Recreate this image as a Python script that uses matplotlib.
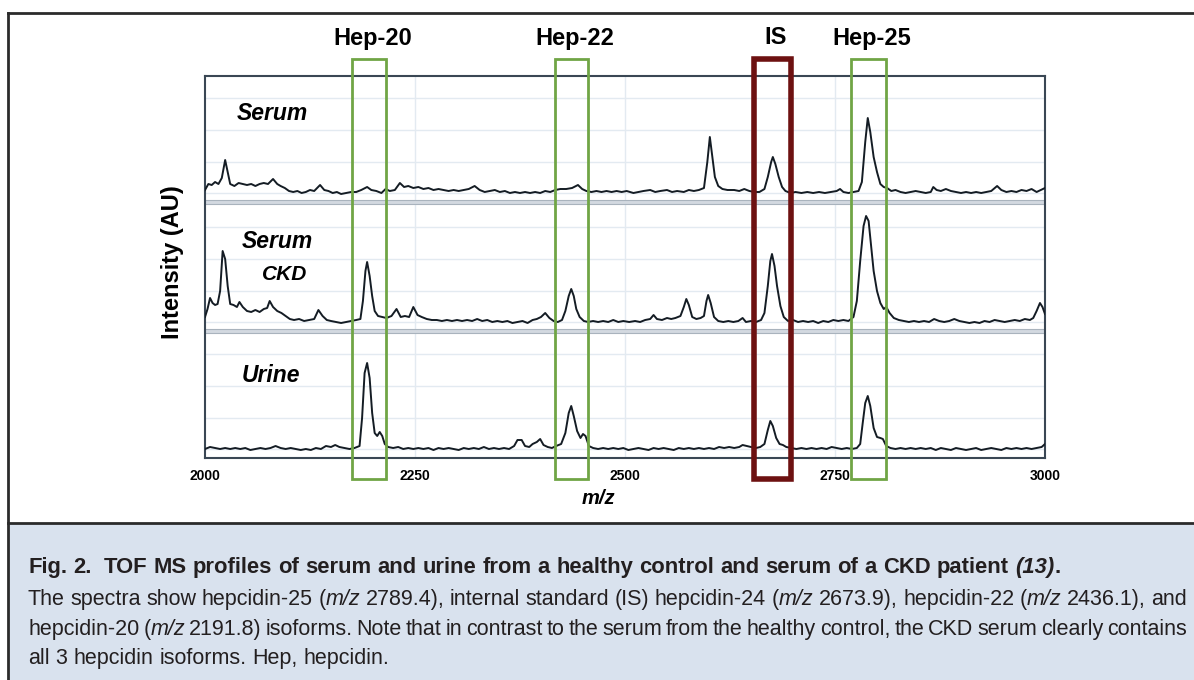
import matplotlib
matplotlib.use("Agg")
import matplotlib.pyplot as plt
from matplotlib.patches import Rectangle

plt.rcParams["font.family"] = ["Liberation Sans", "DejaVu Sans"]

# spectra: (m/z, intensity AU above panel floor)
serum = [(2000,12),(2004,18),(2008,17),(2012,20),(2016,18),(2020,24),(2024,42),(2027,30),(2030,18),
         (2035,16),(2040,19),(2045,18),(2050,17),(2055,18),(2060,16),(2065,18),(2070,19),(2075,18),
         (2081,23),(2086,18),(2090,16),(2095,14),(2100,11),(2105,10),(2110,11),(2115,9),(2120,10),
         (2125,12),(2130,11),(2137,17),(2142,12),(2147,11),(2152,9),(2157,10),(2162,8),(2168,9),
         (2174,10),(2180,10),(2186,12),(2193,15),(2198,12),(2204,11),(2210,9),(2215,13),(2220,11),
         (2226,12),(2232,19),(2237,15),(2242,16),(2248,14),(2254,15),(2260,13),(2266,14),(2272,12),
         (2278,13),(2284,12),(2290,11),(2296,12),(2302,11),(2308,12),(2314,13),(2321,16),(2327,12),
         (2333,10),(2339,11),(2345,12),(2351,10),(2357,11),(2363,9),(2369,10),(2375,9),(2381,10),
         (2387,9),(2393,10),(2399,9),(2405,11),(2411,10),(2417,12),(2423,13),(2430,13),(2437,14),
         (2444,17),(2449,13),(2454,11),(2460,10),(2466,11),(2472,10),(2478,11),(2484,10),(2490,11),
         (2496,10),(2502,11),(2510,9),(2516,10),(2522,11),(2530,12),(2536,10),(2542,11),(2550,12),
         (2556,10),(2562,11),(2570,10),(2576,12),(2582,11),(2588,12),(2594,14),(2598,40),(2601,65),
         (2604,45),(2607,25),(2611,16),(2616,13),(2622,12),(2630,12),(2636,11),(2642,13),(2648,11),
         (2654,10),(2660,10),(2666,13),(2670,25),(2674,40),(2676,45),(2679,38),(2683,25),(2687,15),
         (2691,11),(2697,9),(2703,10),(2710,9),(2717,10),(2724,9),(2731,10),(2738,9),(2745,10),
         (2752,11),(2756,13),(2760,10),(2766,9),(2772,10),(2778,11),(2782,20),(2786,60),(2789,84),
         (2792,70),(2796,45),(2800,30),(2804,18),(2808,15),(2812,14),(2817,11),(2822,12),(2828,10),
         (2834,9),(2840,10),(2846,11),(2852,10),(2858,9),(2864,10),(2867,15),(2871,12),(2876,11),
         (2882,13),(2888,11),(2894,10),(2900,9),(2906,10),(2912,9),(2918,10),(2924,9),(2930,10),
         (2936,11),(2943,16),(2948,12),(2954,10),(2960,11),(2966,10),(2972,12),(2978,11),(2984,13),
         (2990,10),(2995,12),(3000,14)]

serum_ckd = [(2000,14),(2003,22),(2006,33),(2009,28),(2012,26),(2015,27),(2018,40),(2021,80),(2024,72),
             (2027,45),(2030,27),(2034,26),(2038,24),(2041,29),(2045,24),(2050,20),(2055,19),(2060,21),
             (2065,19),(2070,22),(2074,23),(2077,30),(2081,24),(2086,20),(2091,18),(2096,15),(2101,12),
             (2106,11),(2112,12),(2118,10),(2124,11),(2130,12),(2135,21),(2140,15),(2145,11),(2150,10),
             (2156,9),(2162,8),(2168,9),(2174,10),(2180,11),(2185,12),(2188,30),(2191,60),(2193,69),
             (2196,55),(2199,35),(2202,20),(2206,15),(2211,14),(2216,13),(2222,15),(2228,22),(2233,14),
             (2238,15),(2243,14),(2248,24),(2253,16),(2258,14),(2264,12),(2270,11),(2276,11),(2282,10),
             (2288,11),(2294,10),(2300,11),(2306,10),(2312,11),(2318,10),(2324,12),(2330,10),(2336,11),
             (2342,9),(2348,10),(2354,9),(2360,10),(2366,8),(2372,9),(2378,10),(2384,8),(2390,11),
             (2395,12),(2400,14),(2405,18),(2410,13),(2415,10),(2420,9),(2425,11),(2429,20),(2433,35),
             (2436,42),(2439,35),(2442,22),(2446,14),(2451,10),(2456,9),(2462,10),(2468,9),(2474,10),
             (2480,9),(2486,11),(2492,9),(2498,10),(2505,9),(2512,10),(2518,9),(2524,11),(2530,12),
             (2534,16),(2538,12),(2544,11),(2550,13),(2555,12),(2560,13),(2566,15),(2570,24),(2573,32),
             (2576,26),(2580,14),(2585,12),(2590,13),(2594,15),(2597,30),(2599,36),(2602,28),(2606,14),
             (2611,10),(2617,9),(2623,10),(2629,9),(2635,10),(2640,13),(2644,9),(2650,10),(2656,9),
             (2662,11),(2666,18),(2670,45),(2673,70),(2675,77),(2678,65),(2681,45),(2685,25),(2689,14),
             (2694,10),(2700,11),(2706,9),(2712,10),(2718,9),(2724,10),(2730,8),(2736,10),(2742,9),
             (2748,11),(2754,10),(2760,11),(2766,10),(2772,14),(2776,30),(2780,70),(2784,105),(2787,115),
             (2790,110),(2793,85),(2796,60),(2800,40),(2804,28),(2808,22),(2811,24),(2815,18),(2820,13),
             (2826,11),(2832,10),(2838,9),(2844,10),(2850,9),(2856,10),(2862,9),(2868,12),(2874,10),
             (2880,9),(2886,10),(2892,12),(2898,10),(2904,9),(2910,8),(2916,9),(2922,8),(2928,10),
             (2934,9),(2940,11),(2946,10),(2952,9),(2958,10),(2964,11),(2970,10),(2976,12),(2982,11),
             (2986,13),(2990,20),(2994,28),(2997,24),(3000,17)]

urine = [(2000,9),(2006,11),(2012,10),(2018,9),(2024,10),(2030,9),(2036,10),(2042,9),(2048,10),
         (2054,8),(2060,9),(2066,10),(2072,9),(2078,10),(2084,12),(2090,10),(2096,9),(2102,10),
         (2108,9),(2114,8),(2120,9),(2126,8),(2132,10),(2138,9),(2144,12),(2150,11),(2155,13),
         (2160,11),(2166,10),(2172,9),(2178,10),(2184,12),(2187,40),(2190,85),(2193,95),(2196,80),
         (2199,45),(2202,25),(2205,22),(2208,26),(2211,22),(2214,14),(2218,11),(2224,10),(2230,11),
         (2236,9),(2242,10),(2248,9),(2254,10),(2260,9),(2266,10),(2272,8),(2278,10),(2284,9),
         (2290,10),(2296,9),(2302,8),(2308,10),(2314,9),(2320,10),(2326,9),(2332,11),(2338,9),
         (2344,10),(2350,9),(2356,10),(2362,9),(2368,12),(2372,18),(2377,18),(2381,12),(2386,11),
         (2390,14),(2395,16),(2399,19),(2403,13),(2408,11),(2413,10),(2418,12),(2424,14),(2429,25),
         (2433,45),(2436,52),(2439,42),(2443,27),(2447,20),(2450,24),(2453,22),(2457,12),(2462,10),
         (2468,9),(2474,10),(2480,9),(2486,10),(2492,9),(2498,10),(2504,8),(2510,9),(2516,10),
         (2522,9),(2528,8),(2534,10),(2540,9),(2546,10),(2552,9),(2558,8),(2564,10),(2570,9),
         (2576,10),(2582,9),(2588,10),(2594,9),(2600,10),(2606,9),(2612,11),(2618,10),(2624,11),
         (2630,10),(2636,11),(2640,13),(2645,12),(2650,11),(2656,10),(2661,11),(2666,14),(2670,28),
         (2673,37),(2676,32),(2680,20),(2684,14),(2688,13),(2692,11),(2698,10),(2704,9),(2710,10),
         (2716,9),(2722,10),(2728,9),(2734,10),(2740,9),(2746,11),(2752,10),(2758,9),(2764,10),
         (2770,9),(2776,10),(2780,14),(2783,35),(2786,55),(2789,62),(2792,52),(2796,30),(2800,21),
         (2804,20),(2807,19),(2811,12),(2816,10),(2822,9),(2828,10),(2834,9),(2840,10),(2846,9),
         (2852,10),(2858,9),(2864,10),(2870,8),(2876,10),(2882,9),(2888,8),(2894,10),(2900,9),
         (2906,8),(2912,9),(2918,10),(2924,8),(2930,9),(2936,10),(2942,9),(2948,8),(2954,10),
         (2960,9),(2966,10),(2972,9),(2978,10),(2984,9),(2990,10),(2996,11),(3000,14)]

box_names = ["Hep-20", "Hep-22", "IS", "Hep-25"]
box_ranges = [(2175.4, 2215.5), (2416.7, 2456.3), (2653.2, 2697.3), (2768.6, 2810.3)]
xticks = [2000, 2250, 2500, 2750, 3000]

caption_title = "Fig. 2.  TOF MS profiles of serum and urine from a healthy control and serum of a CKD patient *(13)*."
caption_body = [
    "The spectra show hepcidin-25 (*m/z* 2789.4), internal standard (IS) hepcidin-24 (*m/z* 2673.9), hepcidin-22 (*m/z* 2436.1), and",
    "hepcidin-20 (*m/z* 2191.8) isoforms. Note that in contrast to the serum from the healthy control, the CKD serum clearly contains",
    "all 3 hepcidin isoforms. Hep, hepcidin.",
]

W, H = 1194, 680
fig = plt.figure(figsize=(W / 100, H / 100), dpi=100)
fig.patch.set_facecolor("white")

# caption background and frame lines
fig.patches.append(Rectangle((9 / W, 0), 1, (H - 524) / H, transform=fig.transFigure,
                             facecolor="#d9e2ee", edgecolor="none", zorder=0))
frame = "#2b2b2b"
fig.add_artist(plt.Line2D([8 / W, 1], [1 - 13 / H, 1 - 13 / H], color=frame, lw=2))
fig.add_artist(plt.Line2D([8 / W, 8 / W], [0, 1 - 13 / H], color=frame, lw=2))
fig.add_artist(plt.Line2D([8 / W, 1], [1 - 523 / H, 1 - 523 / H], color=frame, lw=2))

ax = fig.add_axes([205 / W, (H - 458) / H, 840 / W, 382 / H])
ax.set_xlim(2000, 3000)
ax.set_ylim(0, 382)

floors = [256, 127, 0]  # serum, serum CKD, urine
grid_c = "#e3eaf1"
for x in [2250, 2500, 2750]:
    ax.axvline(x, color=grid_c, lw=1, zorder=0)
for f in floors:
    for g in [9, 40, 72, 104]:
        ax.axhline(f + g, color=grid_c, lw=1, zorder=0)

# separators between spectra
for f in floors[:2]:
    ax.axhspan(f - 2, f + 2, color="#d3d9e0", lw=0, zorder=1)
    ax.axhline(f - 2, color="#a9b3bd", lw=0.8, zorder=1)
    ax.axhline(f + 2, color="#a9b3bd", lw=0.8, zorder=1)

for spec, f in zip([serum, serum_ckd, urine], floors):
    mz, inten = zip(*spec)
    ax.plot(mz, [v + f for v in inten], color="#141c24", lw=1.4, zorder=3)

lab = dict(fontsize=16.5, fontweight="bold", fontstyle="italic", va="center", ha="left")
ax.text(2038, 344, "Serum", **lab)
ax.text(2044, 216, "Serum", **lab)
ax.text(2068, 183, "CKD", fontsize=15, fontweight="bold", fontstyle="italic", va="center", ha="left")
ax.text(2044, 83, "Urine", **lab)

for name, (lo, hi) in zip(box_names, box_ranges):
    if name == "IS":
        ec, lw = "#6d1111", 4.0
    else:
        ec, lw = "#70a545", 2.0
    ax.add_patch(Rectangle((lo, -21), hi - lo, 420, fill=False, edgecolor=ec, lw=lw,
                           clip_on=False, zorder=5))
    ax.text((lo + hi) / 2 + 4, 420, name, ha="center", va="center", fontsize=17,
            fontweight="bold", clip_on=False)

for s in ax.spines.values():
    s.set_color("#3a4754")
    s.set_linewidth(1.5)
ax.set_yticks([])
ax.set_xticks(xticks)
ax.set_xticklabels([str(t) for t in xticks], fontsize=10, fontweight="bold")
ax.tick_params(axis="x", length=0, pad=8)

fig.text(172 / W, 1 - 262 / H, "Intensity (AU)", rotation=90, ha="center", va="center",
         fontsize=17, fontweight="bold")
fig.text(598 / W, 1 - 498 / H, "m/z", ha="center", va="center", fontsize=14.5,
         fontweight="bold", fontstyle="italic")

# caption text, placed word by word
cap_font = ["Liberation Sans", "DejaVu Sans"]
cap_size = 15.5
cap_color = "#231f20"
renderer = fig.canvas.get_renderer()


def parse_words(line):
    words = []
    for w in line.split(" "):
        segs = []
        for i, part in enumerate(w.split("*")):
            if part:
                segs.append((part, i % 2 == 1))
        words.append(segs)
    return words


def draw_line(line, x0, y, weight, right=None, size=cap_size):
    words = parse_words(line)
    made = []
    widths = []
    for segs in words:
        ts = []
        wsum = 0
        for s, it in segs:
            t = fig.text(0, 0, s, fontsize=size, family=cap_font, weight=weight,
                         style="italic" if it else "normal", color=cap_color, va="baseline")
            w = t.get_window_extent(renderer).width
            ts.append((t, w))
            wsum += w
        made.append(ts)
        widths.append(wsum)
    probe = fig.text(0, 0, "x x", fontsize=size, family=cap_font, weight=weight)
    probe2 = fig.text(0, 0, "xx", fontsize=size, family=cap_font, weight=weight)
    gap = probe.get_window_extent(renderer).width - probe2.get_window_extent(renderer).width
    probe.remove()
    probe2.remove()
    if right is not None and len(words) > 1:
        gap = (right - x0 - sum(widths)) / (len(words) - 1)
    x = x0
    for ts, wsum in zip(made, widths):
        if not ts:
            x += gap
            continue
        for t, w in ts:
            t.set_position((x / W, 1 - y / H))
            x += w
        x += gap


draw_line(caption_title, 28, 573, "bold", size=15.8)
draw_line(caption_body[0], 28, 605, "normal", right=1187)
draw_line(caption_body[1], 28, 635, "normal", right=1187)
draw_line(caption_body[2], 28, 664, "normal")

fig.savefig("out.png", dpi=100)
